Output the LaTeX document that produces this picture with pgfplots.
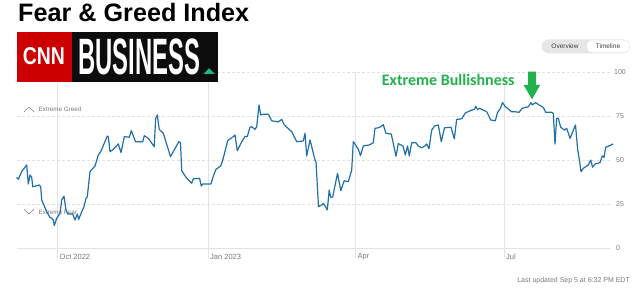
\documentclass[border=0pt]{standalone}
\usepackage{pgfplots}
\pgfplotsset{compat=1.18}
\usepackage{fontspec}
\setmainfont{Liberation Sans}
\newfontfamily\carlito{Carlito}
\usepackage{graphicx}
\definecolor{linec}{HTML}{1F6FA8}
\definecolor{gridc}{HTML}{E2E2E2}
\definecolor{labc}{HTML}{7A7A7A}
\definecolor{bullgreen}{HTML}{22B14C}
\definecolor{cnnred}{HTML}{CC0000}
\definecolor{tealc}{HTML}{20B48C}
\definecolor{toggc}{HTML}{E6E6E6}
\begin{document}
\begin{tikzpicture}[x=1pt,y=1pt]
\path[use as bounding box] (0,0) rectangle (640,287);
\begin{axis}[at={(17pt,39pt)}, anchor=south west, scale only axis,
  width=593pt, height=176pt, xmin=17, xmax=610, ymin=0, ymax=100,
  axis lines=none, clip=false]
% horizontal gridlines
\draw[gridc, line width=0.6pt] (axis cs:17,0) -- (axis cs:610,0);
\draw[gridc, line width=0.6pt, dash pattern=on 2.5pt off 2.5pt] (axis cs:17,25) -- (axis cs:610,25);
\draw[gridc, line width=0.6pt, dash pattern=on 2.5pt off 2.5pt] (axis cs:17,50) -- (axis cs:610,50);
\draw[gridc, line width=0.6pt, dash pattern=on 2.5pt off 2.5pt] (axis cs:17,75) -- (axis cs:610,75);
\draw[gridc, line width=0.6pt, dash pattern=on 2.5pt off 2.5pt] (axis cs:17,100) -- (axis cs:610,100);
% vertical gridlines
\draw[gridc, line width=0.6pt] (axis cs:57.5,-5.7) -- (axis cs:57.5,100);
\draw[gridc, line width=0.6pt] (axis cs:208,-5.7) -- (axis cs:208,100);
\draw[gridc, line width=0.6pt] (axis cs:355.7,-5.7) -- (axis cs:355.7,100);
\draw[gridc, line width=0.6pt] (axis cs:504.3,-5.7) -- (axis cs:504.3,100);
% x tick labels
\node[anchor=west, inner sep=0, font=\fontsize{7.5}{9}\selectfont, text=labc] at (axis cs:59.5,-4.9) {Oct 2022};
\node[anchor=west, inner sep=0, font=\fontsize{7.5}{9}\selectfont, text=labc] at (axis cs:210,-4.9) {Jan 2023};
\node[anchor=west, inner sep=0, font=\fontsize{7.5}{9}\selectfont, text=labc] at (axis cs:357.5,-4.9) {Apr};
\node[anchor=west, inner sep=0, font=\fontsize{7.5}{9}\selectfont, text=labc] at (axis cs:506,-4.9) {Jul};
% y tick labels
\node[anchor=west, inner sep=0, font=\fontsize{7}{9}\selectfont, text=labc] at (axis cs:614,100) {100};
\node[anchor=west, inner sep=0, font=\fontsize{7}{9}\selectfont, text=labc] at (axis cs:616,75) {75};
\node[anchor=west, inner sep=0, font=\fontsize{7}{9}\selectfont, text=labc] at (axis cs:616,50) {50};
\node[anchor=west, inner sep=0, font=\fontsize{7}{9}\selectfont, text=labc] at (axis cs:616,25) {25};
\node[anchor=west, inner sep=0, font=\fontsize{7}{9}\selectfont, text=labc] at (axis cs:616,0) {0};
% zone labels
\draw[labc, line width=0.5pt] (axis cs:24,77.3) -- (axis cs:29,80) -- (axis cs:34,77.3);
\node[anchor=west, inner sep=0, font=\fontsize{6.3}{8}\selectfont, text=labc] at (axis cs:38.5,78.6) {Extreme Greed};
\draw[labc, line width=0.5pt] (axis cs:24,22) -- (axis cs:29,19.3) -- (axis cs:34,22);
\node[anchor=west, inner sep=0, font=\fontsize{6.3}{8}\selectfont, text=labc] at (axis cs:38.5,20.5) {Extreme Fear};
\addplot[color=linec, line width=1.2pt, line join=round, mark=none] coordinates {
(16.7,40.2) (18.3,39.0) (21.7,43.4) (26.7,47.2) (28.3,36.4) (30,41.5) (31.7,40.2) (32.7,34.8) (39.3,35.8) (40.7,34.8) (41.7,27.3) (46.7,20.6) (50,17.4) (51.7,16.9) (53.3,15.9) (54.3,12.7) (56.7,16.9) (60,19.7) (61.7,27.3) (64,29.5) (66,21.6) (67.7,19.3) (72.7,19.3) (75,15.9) (77.3,19.3) (78.7,16.3) (81.7,20.6) (84,23.5) (86,28.2) (87.3,29.2) (90,43.4) (95,46.6) (98.3,52.8) (100.7,54.7) (107.3,63.6) (108.3,63.3) (110,54.7) (113.3,56.1) (118.3,59.1) (121,54.2) (124.3,63.3) (129.3,62.9) (131.3,66.7) (135.5,60.4) (142.7,60.4) (144.3,63.8) (148.3,62.3) (154.2,57.6) (155.7,73.7) (157.3,75.6) (159.2,67.4) (163.3,65.2) (170.5,51.9) (178.8,60.4) (180.5,59.8) (181.7,43.9) (186.7,39.6) (189.3,38.2) (191.7,36.8) (193.3,39.3) (199.6,39.6) (201.3,35.2) (202.7,36.4) (211,36.4) (213.3,40.9) (216,44.7) (220.7,46.6) (223.3,51.0) (227.7,61.0) (233.3,63.3) (235,64.2) (237.3,55.3) (241.7,60.4) (245,63.3) (247.3,63.3) (250,68.6) (251.7,68.9) (255,67.4) (256.7,68.9) (259,81.3) (260.7,75.6) (263.3,76.0) (268.3,76.0) (271.7,72.3) (278.3,71.6) (281.7,73.1) (284.3,69.9) (291.7,66.1) (296.7,60.4) (303.3,60.8) (305,65.2) (306.7,52.3) (310,61.4) (315,50.0) (316,49.0) (318.5,23.5) (321.7,24.4) (323.3,25.4) (325,24.0) (327.3,21.6) (329.2,33.0) (330.7,28.8) (332.7,29.0) (337.5,42.4) (340.8,32.6) (344.2,38.2) (348.3,37.7) (351.7,44.3) (353.3,60.4) (358.3,56.1) (360.5,52.5) (363.3,58.0) (369,58.5) (373.3,59.8) (375,68.0) (378.3,68.3) (380.7,68.9) (383.3,70.1) (385.9,65.2) (391.3,64.7) (396,52.1) (398.3,59.3) (403,58.0) (405.3,52.8) (407.5,58.0) (409.3,52.3) (411.7,59.8) (416,59.8) (418.3,58.0) (421.7,56.9) (425,58.0) (426.7,59.1) (429,56.4) (431.7,67.0) (434.5,69.3) (438.3,69.9) (441.3,60.4) (444.5,68.3) (451,68.6) (454.3,62.0) (456.7,73.1) (461.7,73.4) (465.3,76.7) (470,78.0) (474.3,78.8) (475.8,80.5) (477.7,78.6) (479.5,79.4) (486.7,77.4) (490.8,72.7) (495.3,72.3) (497.5,76.9) (500.5,79.4) (502.5,82.7) (505,80.5) (511.7,77.4) (515,77.4) (519,77.1) (522.3,79.4) (525.7,79.9) (528.3,80.3) (531,82.6) (532.3,81.3) (535.7,82.6) (539,81.3) (543.3,79.9) (545.7,77.1) (551.7,77.1) (553.3,76.5) (555,59.1) (556.7,73.7) (558.3,73.7) (560.7,68.6) (564.3,67.0) (566.7,68.0) (570,62.3) (575.5,69.9) (577.7,55.7) (579,51.5) (581,43.4) (583.3,45.3) (588.3,47.2) (590.8,50.0) (592.5,45.9) (595,47.7) (600,48.5) (602.3,52.3) (604,51.5) (605.7,57.2) (609,58.0) (613,59.1)
};
\end{axis}
% Title
\node[anchor=base west, inner sep=0, font=\fontsize{25.2}{28}\selectfont\bfseries] at (18,265) {Fear \& Greed Index};
% Logo
\fill[cnnred] (16.7,205.3) rectangle (71.7,254.7);
\fill[black!95] (71.7,205.3) rectangle (218.3,254.7);
\node[anchor=south west, inner sep=0, text=white] at (22.7,222) {\resizebox{42pt}{17pt}{\bfseries CNN}};
\node[anchor=south west, inner sep=0, text=white] at (78.3,212) {\resizebox{121.7pt}{35.7pt}{\bfseries BUSINESS}};
\fill[tealc] (203.3,213) -- (215,213) -- (209.2,218.7) -- cycle;
% Toggle
\fill[toggc, rounded corners=7pt] (541.7,233.7) rectangle (630,247.7);
\fill[white, rounded corners=6pt] (586.7,234.7) rectangle (629.3,246.7);
\node[inner sep=0, font=\fontsize{6.5}{8}\selectfont, text=black!75] at (565,240.7) {Overview};
\node[inner sep=0, font=\fontsize{6.5}{8}\selectfont, text=black!75] at (608,240.7) {Timeline};
% Annotation
\node[anchor=base west, inner sep=0, font=\carlito\bfseries\fontsize{16}{18}\selectfont, text=bullgreen] at (381.7,201.3) {Extreme Bullishness};
\fill[bullgreen] (528,215.3) -- (536,215.3) -- (536,202) -- (540.2,202) -- (532,187.7) -- (523.6,202) -- (528,202) -- cycle;
% Footer
\node[anchor=east, inner sep=0, font=\fontsize{7}{9}\selectfont, text=labc] at (630,6.7) {Last updated Sep 5 at 6:32 PM EDT};
\end{tikzpicture}
\end{document}
